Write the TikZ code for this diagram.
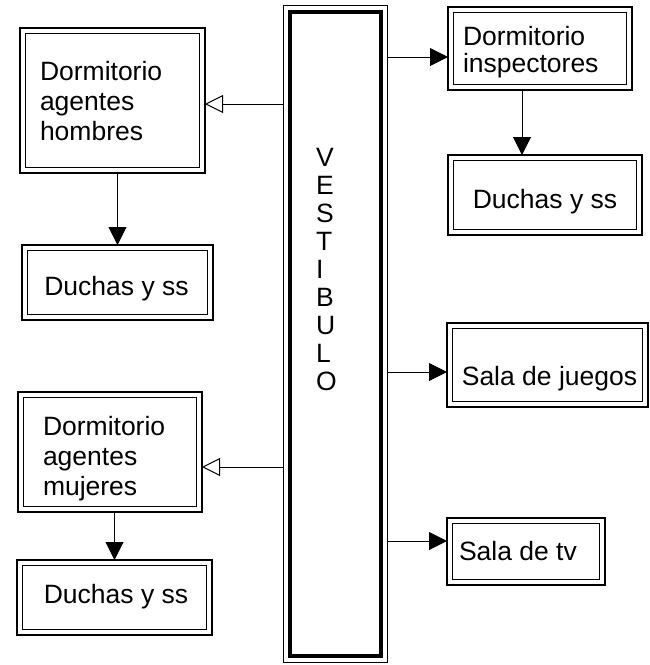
\documentclass[tikz,border=0pt]{standalone}
\usepackage{fontspec}
\setmainfont{Liberation Sans}
\usetikzlibrary{arrows.meta}
\begin{document}
\begin{tikzpicture}[x=1pt,y=-1pt,
 box/.style={draw, line width=1.8pt, inner sep=0pt, outer sep=0pt},
 txt/.style={inner sep=0pt, outer sep=0pt, anchor=base west, font=\fontsize{26.5}{30}\selectfont},
 ctxt/.style={txt, anchor=base},
 arr/.style={line width=1pt, -{Triangle[length=18pt,width=18pt]}},
 arro/.style={line width=1pt, -{Triangle[open,fill=white,length=18pt,width=18pt]}}]
\useasboundingbox (0,0) rectangle (650,665);
% boxes
\node[draw, line width=1pt, inner sep=0pt, outer sep=0pt, minimum width=104pt, minimum height=657pt] (vest) at (335,333.5) {};
\draw[line width=4pt] ([xshift=6.5pt,yshift=-6.5pt]vest.north west) rectangle ([xshift=-6.5pt,yshift=6.5pt]vest.south east);
\node[box, minimum width=185pt, minimum height=145pt] (hom) at (112.5,100.5) {};
\node[box, minimum width=191pt, minimum height=75pt] (d1) at (117.5,282.5) {};
\node[box, minimum width=184pt, minimum height=83pt] (ins) at (540,48.5) {};
\node[box, minimum width=194pt, minimum height=80pt] (d2) at (545,195) {};
\node[box, minimum width=201pt, minimum height=84pt] (jue) at (547.5,365) {};
\node[box, minimum width=158pt, minimum height=67pt] (tv) at (526,551.5) {};
\node[box, minimum width=184pt, minimum height=120pt] (muj) at (110,452) {};
\node[box, minimum width=195pt, minimum height=75pt] (d3) at (114.5,597.5) {};
\foreach \n in {hom,d1,ins,d2,jue,tv,muj,d3}
  \draw[line width=0.9pt] ([xshift=5.5pt,yshift=-5.5pt]\n.north west) rectangle ([xshift=-5.5pt,yshift=5.5pt]\n.south east);
% texts
\node[txt] (hom1) at (40,80) {Dormitorio};
\node[txt] (hom2) at (40,110) {agentes};
\node[txt] (hom3) at (40,140) {hombres};
\node[ctxt] (d1t) at (116.5,295) {Duchas y ss};
\node[txt] (ins1) at (463,45) {Dormitorio};
\node[txt] (ins2) at (463,72) {inspectores};
\node[ctxt] (d2t) at (545,208) {Duchas y ss};
\node[ctxt] (juet) at (549.5,385) {Sala de juegos};
\node[txt] (tvt) at (459,560) {Sala de tv};
\node[txt] (muj1) at (43,435) {Dormitorio};
\node[txt] (muj2) at (43,465) {agentes};
\node[txt] (muj3) at (43,495) {mujeres};
\node[ctxt] (d3t) at (116,603) {Duchas y ss};
\foreach \l [count=\i from 0] in {V,E,S,T,I,B,U,L,O}
  \node[txt] (v\i) at (316,{166+28*\i}) {\l};
% connectors
\coordinate (hin) at ([yshift=-3.5pt]hom.east);
\coordinate (insin) at ([yshift=-8.5pt]ins.west);
\coordinate (juein) at ([yshift=-7pt]jue.west);
\coordinate (tvin) at ([yshift=10.5pt]tv.west);
\coordinate (mujin) at ([yshift=-15pt]muj.east);
\coordinate (d2in) at ([xshift=-23pt]d2.north);
\draw[arro] (vest.west |- hin) -- (hin);
\draw[arr] (vest.east |- insin) -- (insin);
\draw[arr] (vest.east |- juein) -- (juein);
\draw[arr] (vest.east |- tvin) -- (tvin);
\draw[arro] (vest.west |- mujin) -- (mujin);
\draw[arr] (hom.south -| d1.north) -- (d1.north);
\draw[arr] (ins.south -| d2in) -- (d2in);
\draw[arr] (muj.south -| d3.north) -- (d3.north);
\end{tikzpicture}
\end{document}
